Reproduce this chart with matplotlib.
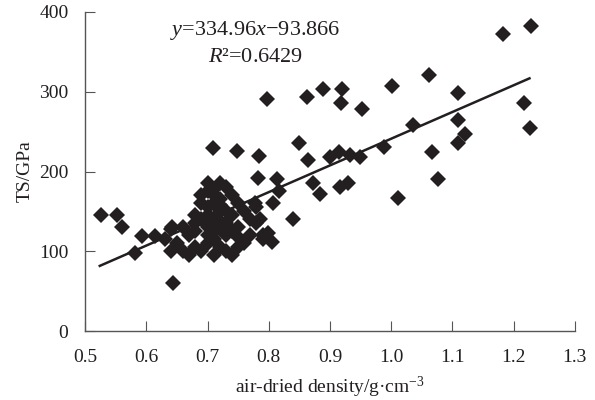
import numpy as np
import matplotlib.pyplot as plt

plt.rcParams['font.family'] = ['Liberation Serif', 'DejaVu Serif']
plt.rcParams['mathtext.fontset'] = 'custom'
plt.rcParams['mathtext.rm'] = 'Liberation Serif'
plt.rcParams['mathtext.it'] = 'Liberation Serif:italic'

# air-dried density (g/cm3) and tensile strength (GPa)
density = [
    1.228, 1.182, 1.217, 1.227, 1.001, 1.062, 1.109, 1.036, 1.109, 1.120,
    1.109, 0.988, 1.067, 1.076, 1.011,
    0.797, 0.862, 0.889, 0.920, 0.918, 0.952, 0.849, 0.784, 0.864, 0.900,
    0.915, 0.933, 0.949, 0.782, 0.813, 0.817, 0.872, 0.884, 0.916, 0.929,
    0.778, 0.807, 0.709, 0.748,
    0.526, 0.552, 0.560, 0.593, 0.614, 0.582, 0.642, 0.644,
    0.799, 0.805, 0.840, 0.786,
    0.70, 0.72, 0.73, 0.70, 0.71, 0.72, 0.74, 0.69, 0.70, 0.72,
    0.75, 0.76, 0.74, 0.68, 0.69, 0.71, 0.73, 0.70, 0.72, 0.75,
    0.77, 0.78, 0.66, 0.67, 0.68, 0.70, 0.71, 0.73, 0.75, 0.77,
    0.65, 0.66, 0.68, 0.69, 0.70, 0.72, 0.73, 0.74, 0.75, 0.76,
    0.64, 0.67, 0.71, 0.79, 0.64, 0.63, 0.78, 0.79,
    0.71, 0.72, 0.69, 0.71, 0.73, 0.70, 0.68, 0.72, 0.74, 0.71,
]
ts = [
    382, 372, 286, 255, 307, 321, 299, 258, 264, 247,
    236, 231, 225, 190, 167,
    291, 294, 303, 303, 286, 278, 236, 219, 214, 218,
    224, 221, 218, 192, 191, 176, 186, 172, 180, 185,
    160, 160, 230, 226,
    146, 146, 130, 119, 119, 98, 130, 60,
    123, 111, 141, 141,
    185, 185, 180, 175, 170, 165, 170, 160, 155, 158,
    160, 150, 145, 145, 140, 140, 135, 130, 128, 130,
    140, 135, 130, 120, 125, 120, 115, 120, 118, 120,
    110, 100, 105, 100, 110, 105, 100, 95, 105, 110,
    100, 95, 95, 115, 128, 115, 155, 120,
    178, 150, 170, 160, 150, 145, 135, 138, 125, 125,
]

slope = 334.96
intercept = -93.866
fit_x = [0.524, 1.226]

fig = plt.figure(figsize=(5.95, 4.0), dpi=100)
ax = fig.add_axes([0.143, 0.1725, 0.823, 0.7975])

ax.plot(density, ts, 'D', color='#231f20', markersize=8.5, markeredgewidth=0)
fx = np.array(fit_x)
ax.plot(fx, slope * fx + intercept, color='#231f20', linewidth=1.8)

ax.set_xlim(0.5, 1.3)
ax.set_ylim(0, 400)
ax.set_xticks(np.arange(0.5, 1.31, 0.1))
ax.set_xticklabels(['0.5', '0.6', '0.7', '0.8', '0.9', '1.0', '1.1', '1.2', '1.3'])
ax.set_yticks([0, 100, 200, 300, 400])

for s in ['top', 'right']:
    ax.spines[s].set_visible(False)
for s in ['left', 'bottom']:
    ax.spines[s].set_color('#555555')
    ax.spines[s].set_linewidth(1.0)
ax.tick_params(direction='in', length=7, color='#555555', labelsize=14,
               labelcolor='#231f20')
ax.tick_params(axis='x', pad=13)
ax.tick_params(axis='y', pad=12)

ax.set_xlabel('air-dried density/g·cm$^{-3}$', fontsize=14, color='#231f20',
              labelpad=6)
ax.set_ylabel('TS/GPa', fontsize=14, color='#231f20', labelpad=4)

ax.text(0.778, 377, '$y$=334.96$x$−93.866', fontsize=16, ha='center',
        va='center', color='#231f20')
ax.text(0.778, 343, '$R$²=0.6429', fontsize=16, ha='center',
        va='center', color='#231f20')

fig.savefig('out.png', dpi=100)
